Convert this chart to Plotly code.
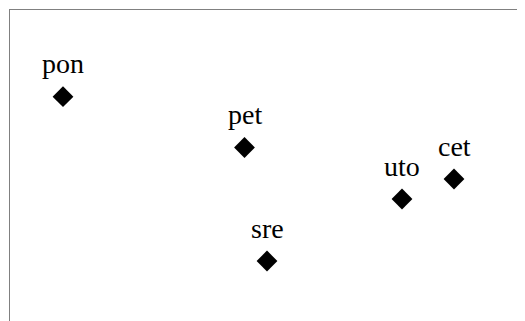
import plotly.graph_objects as go

labels = ['pon', 'pet', 'sre', 'uto', 'cet']
xs = [53, 234.5, 257, 392, 444]
ys = [224.3, 173.5, 60, 122, 142]

fig = go.Figure(go.Scatter(
    x=xs, y=ys,
    mode='markers',
    marker=dict(symbol='diamond', size=16, color='black'),
    hovertext=labels,
    hoverinfo='text',
))

# labels sit above each marker
for lab, x, y in zip(labels, xs, ys):
    fig.add_annotation(x=x, y=y, text=lab, showarrow=False,
                       yanchor='middle', yshift=33,
                       font=dict(family='Liberation Serif, Times New Roman, serif', size=28, color='black'))

fig.update_layout(
    width=517, height=313,
    margin=dict(l=2, r=0, t=2, b=0),
    showlegend=False,
    plot_bgcolor='white',
    paper_bgcolor='white',
    xaxis=dict(range=[0, 515], side='top', showline=True, linecolor='#808080', linewidth=1,
               showgrid=False, zeroline=False, showticklabels=False, ticks=''),
    yaxis=dict(range=[0, 311], showline=True, linecolor='#808080', linewidth=1,
               showgrid=False, zeroline=False, showticklabels=False, ticks=''),
)

fig.write_html('out.html')
